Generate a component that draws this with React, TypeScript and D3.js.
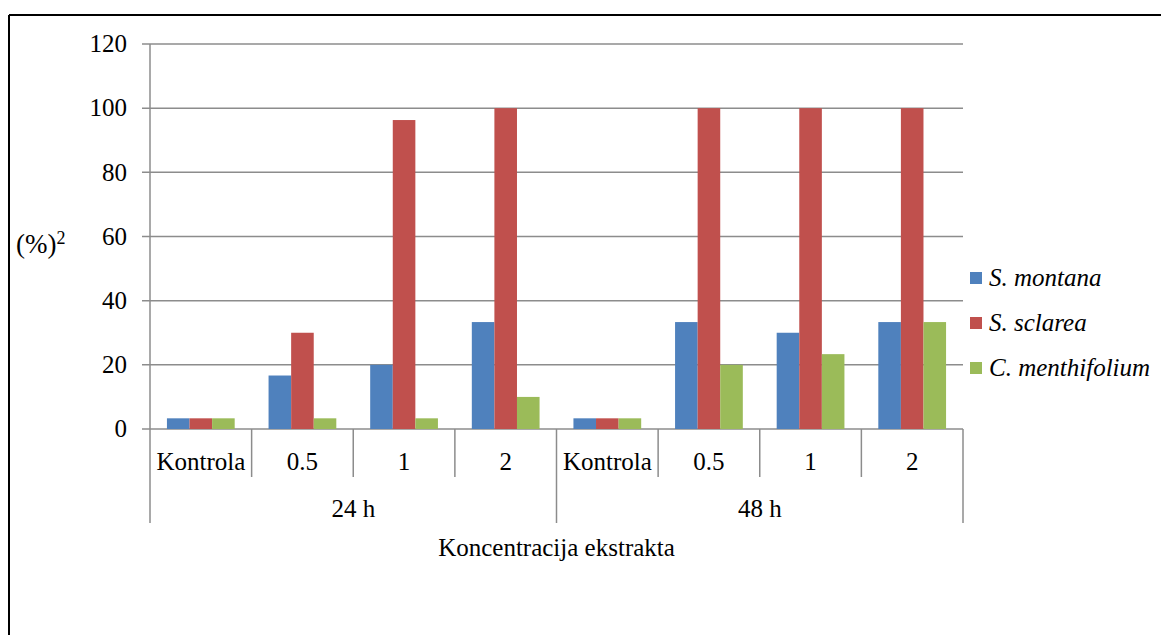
import React from "react";
import * as d3 from "d3";

const groups = ["24 h", "48 h"];
const concentrations = ["Kontrola", "0.5", "1", "2"];
const seriesNames = ["S. montana", "S. sclarea", "C. menthifolium"];
const seriesColors = ["#4F81BD", "#C0504D", "#9BBB59"];
// values per category (24 h: Kontrola, 0.5, 1, 2; 48 h: Kontrola, 0.5, 1, 2)
const montana = [3.33, 16.67, 20, 33.33, 3.33, 33.33, 30, 33.33];
const sclarea = [3.33, 30, 96.3, 100, 3.33, 100, 100, 100];
const menthifolium = [3.33, 3.33, 3.33, 10, 3.33, 20, 23.33, 33.33];
const yTicks = [0, 20, 40, 60, 80, 100, 120];

const W = 1161;
const H = 635;
const FONT = "Liberation Serif, Times New Roman, Tinos, DejaVu Serif, serif";
const FS = 25;

export default function App() {
  const left = 150;
  const right = 963;
  const top = 44;
  const bottom = 429;

  const categories = groups.flatMap((g) => concentrations.map((c) => `${g}|${c}`));
  const x = d3.scaleBand<string>().domain(categories).range([left, right]).paddingInner(0).paddingOuter(0);
  const y = d3.scaleLinear().domain([0, 120]).range([bottom, top]);
  const catW = x.bandwidth();
  const barW = catW / 4.5;
  const groupOffset = (catW - 3 * barW) / 2;
  const data = [montana, sclarea, menthifolium];

  const gridColor = "#8C8C8C";
  const textStyle = { fontFamily: FONT, fontSize: FS, fill: "#000" };

  return (
    <svg
      width={W}
      height={H}
      style={{ position: "fixed", left: 0, top: 0, display: "block", background: "#fff" }}
    >
      <rect x={0} y={0} width={W} height={H} fill="#fff" />
      {/* frame */}
      <line x1={9} y1={15} x2={W} y2={15} stroke="#000" strokeWidth={2} />
      <line x1={9} y1={15} x2={9} y2={H} stroke="#000" strokeWidth={2} />

      {/* gridlines and y ticks */}
      {yTicks.map((t) => (
        <g key={t}>
          <line x1={142} x2={right} y1={y(t)} y2={y(t)} stroke={gridColor} strokeWidth={1.5} />
          <text x={127} y={y(t)} dy="0.33em" textAnchor="end" style={textStyle}>
            {t}
          </text>
        </g>
      ))}
      <line x1={left} x2={left} y1={top} y2={bottom} stroke={gridColor} strokeWidth={1.5} />

      {/* bars */}
      {data.map((vals, si) =>
        vals.map((v, ci) => (
          <rect
            key={`${si}-${ci}`}
            x={(x(categories[ci]) as number) + groupOffset + si * barW}
            y={y(v)}
            width={barW}
            height={y(0) - y(v)}
            fill={seriesColors[si]}
          />
        ))
      )}

      {/* category separators */}
      {d3.range(categories.length + 1).map((i) => {
        const xx = left + i * catW;
        const isGroupEdge = i % concentrations.length === 0;
        return (
          <line
            key={i}
            x1={xx}
            x2={xx}
            y1={bottom}
            y2={isGroupEdge ? 523 : 477}
            stroke={gridColor}
            strokeWidth={1.5}
          />
        );
      })}

      {/* category labels */}
      {categories.map((c) => (
        <text
          key={c}
          x={(x(c) as number) + catW / 2}
          y={462}
          dy="0.33em"
          textAnchor="middle"
          style={textStyle}
        >
          {c.split("|")[1]}
        </text>
      ))}
      {groups.map((g, gi) => (
        <text
          key={g}
          x={left + (gi + 0.5) * concentrations.length * catW}
          y={509}
          dy="0.33em"
          textAnchor="middle"
          style={textStyle}
        >
          {g}
        </text>
      ))}
      <text x={(left + right) / 2} y={548} dy="0.33em" textAnchor="middle" style={textStyle}>
        Koncentracija ekstrakta
      </text>

      {/* y axis title */}
      <text x={16} y={244} dy="0.33em" style={{ ...textStyle, fontSize: 27 }}>
        (%)
        <tspan style={{ fontSize: 18 }} dy={-9}>2</tspan>
      </text>

      {/* legend */}
      {seriesNames.map((n, i) => {
        const cy = 278 + i * 45;
        return (
          <g key={n}>
            <rect x={970} y={cy - 6} width={12} height={12} fill={seriesColors[i]} />
            <text x={989} y={cy} dy="0.33em" style={{ ...textStyle, fontStyle: "italic" }}>
              {n}
            </text>
          </g>
        );
      })}
    </svg>
  );
}
